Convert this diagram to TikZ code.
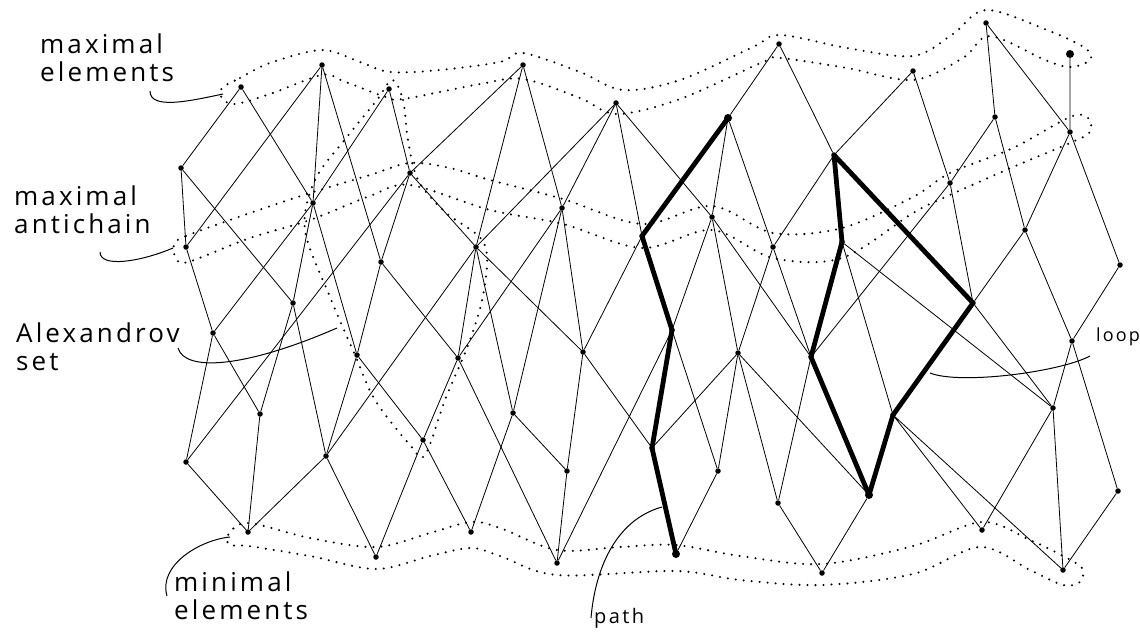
\documentclass[tikz,border=0pt]{standalone}
\usepackage{fontspec}
\newfontfamily\handfont[LetterSpace=12]{Open Sans}
\usepackage{tikz}

\begin{document}
\begin{tikzpicture}[x=1pt,y=1pt,yscale=-1,
        event/.style={circle,fill=black,inner sep=0pt,minimum size=5.5pt},
        bigevent/.style={circle,fill=black,inner sep=0pt,minimum size=8pt},
        link/.style={line width=0.8pt},
        heavy/.style={line width=4.8pt,line join=round,line cap=round},
        band/.style={line width=2.3pt,dash pattern=on 0pt off 8pt,line cap=round},
        lbl/.style={font=\handfont\fontsize{26}{28}\selectfont,align=left,inner sep=0pt,anchor=north west},
        smalllbl/.style={font=\handfont\fontsize{20}{24}\selectfont,inner sep=0pt,anchor=north west},
        pointer/.style={line width=1pt}]
        \useasboundingbox (0,0) rectangle (1140,640);

        %Dotted bands
        % maximal elements
        \draw[band] plot[smooth cycle,tension=0.55] coordinates {(222,88) (240,78) (270,63) (322,50) (360,62) (390,72) (440,70) (500,62) (523,53) (580,72) (623,90) (680,80) (753,47) (780,35) (847,48) (913,56) (953,34) (986,10) (1047,30) (1085,48) (1090,60) (1070,67) (1045,60) (990,36) (963,58) (913,80) (847,68) (780,58) (763,62) (680,99) (617,114) (580,98) (523,79) (480,84) (403,99) (383,96) (343,81) (322,75) (270,94) (235,104) (222,98)};
        % maximal antichain
        \draw[band] plot[smooth cycle,tension=0.55] coordinates {(174,245) (186,236) (250,213) (310,193) (370,175) (410,163) (450,168) (490,180) (563,199) (642,224) (712,206) (773,233) (842,228) (913,197) (950,173) (1013,148) (1070,117) (1088,118) (1090,132) (1070,143) (1013,167) (950,195) (913,213) (842,258) (773,258) (712,230) (642,248) (563,224) (490,210) (410,185) (370,196) (310,220) (250,238) (188,262) (176,258)};
        % Alexandrov set
        \draw[band] plot[smooth cycle,tension=0.55] coordinates {(392,80) (403,100) (408,140) (418,180) (445,212) (484,243) (484,290) (470,340) (445,400) (425,455) (410,445) (375,400) (355,355) (330,297) (305,230) (315,180) (347,137) (377,100)};
        % minimal elements
        \draw[band] plot[smooth cycle,tension=0.55] coordinates {(228,535) (248,523) (310,538) (376,547) (430,533) (471,522) (500,528) (557,550) (620,547) (676,545) (740,556) (822,564) (913,546) (982,522) (1030,540) (1063,556) (1082,568) (1080,582) (1063,585) (1030,570) (980,547) (913,574) (822,585) (740,580) (676,571) (557,575) (500,556) (471,548) (430,556) (376,569) (310,556) (248,546) (230,545)};

        %Events, left part
        \node[event] (n1) at (241,87) {};
        \node[event] (n2) at (322,65) {};
        \node[event] (n3) at (389,89) {};
        \node[event] (n4) at (181,168) {};
        \node[event] (n5) at (313,203) {};
        \node[event] (n6) at (410,173) {};
        \node[event] (n7) at (186,247) {};
        \node[event] (n8) at (381,262) {};
        \node[event] (n9) at (476,247) {};
        \node[event] (n10) at (293,303) {};
        \node[event] (n11) at (213,333) {};
        \node[event] (n12) at (357,355) {};
        \node[event] (n13) at (458,358) {};
        \node[event] (n14) at (260,414) {};
        \node[event] (n15) at (186,462) {};
        \node[event] (n16) at (326,456) {};
        \node[event] (n17) at (423,440) {};
        \node[event] (n18) at (248,532) {};
        \node[event] (n19) at (376,557) {};
        \node[event] (n20) at (471,532) {};
        %Events, middle part
        \node[event] (m1) at (523,65) {};
        \node[event] (m2) at (616,103) {};
        \node[event] (m3) at (779,44) {};
        \node[bigevent] (m4) at (728,118) {};
        \node[event] (m5) at (562,208) {};
        \node[event] (m6) at (642,236) {};
        \node[event] (m7) at (712,217) {};
        \node[event] (m8) at (773,247) {};
        \node[event] (m9) at (583,352) {};
        \node[event] (m10) at (672,330) {};
        \node[event] (m11) at (738,353) {};
        \node[event] (m12) at (513,413) {};
        \node[event] (m13) at (567,471) {};
        \node[event] (m14) at (652,448) {};
        \node[event] (m15) at (718,471) {};
        \node[event] (m16) at (778,503) {};
        \node[event] (m17) at (557,563) {};
        \node[bigevent] (m18) at (676,554) {};
        %Events, right part
        \node[event] (r1) at (913,71) {};
        \node[event] (r2) at (986,23) {};
        \node[bigevent] (r3) at (1070,54) {};
        \node[event] (r4) at (995,117) {};
        \node[event] (r5) at (1070,132) {};
        \node[event] (r6) at (834,155) {};
        \node[event] (r7) at (950,183) {};
        \node[event] (r8) at (1025,230) {};
        \node[event] (r9) at (842,242) {};
        \node[event] (r10) at (1120,265) {};
        \node[event] (r11) at (811,357) {};
        \node[event] (r12) at (973,303) {};
        \node[event] (r13) at (1072,341) {};
        \node[event] (r14) at (893,415) {};
        \node[event] (r15) at (1053,408) {};
        \node[bigevent] (r16) at (869,495) {};
        \node[event] (r17) at (1118,491) {};
        \node[event] (r18) at (982,530) {};
        \node[event] (r19) at (822,573) {};
        \node[event] (r20) at (1063,570) {};

        %Links, left part
        \draw[link] (n1) -- (n4) (n1) -- (n5);
        \draw[link] (n2) -- (n7) (n2) -- (n5) (n2) -- (n8);
        \draw[link] (n3) -- (n5) (n3) -- (n6);
        \draw[link] (n4) -- (n7) (n4) -- (n10);
        \draw[link] (n5) -- (n10) (n5) -- (n11) (n5) -- (n12);
        \draw[link] (n6) -- (n15) (n6) -- (n8) (n6) -- (n9);
        \draw[link] (n7) -- (n11);
        \draw[link] (n8) -- (n12) (n8) -- (n13);
        \draw[link] (n9) -- (n13) (n9) -- (n16) (n9) -- (m9) (n9) -- (m12);
        \draw[link] (n10) -- (n14) (n10) -- (n16);
        \draw[link] (n11) -- (n14) (n11) -- (n15);
        \draw[link] (n12) -- (n16) (n12) -- (n17);
        \draw[link] (n13) -- (n17) (n13) -- (m17);
        \draw[link] (n14) -- (n18) (n15) -- (n18);
        \draw[link] (n16) -- (n18) (n16) -- (n19);
        \draw[link] (n17) -- (n19) (n17) -- (n20);
        %Links, middle part
        \draw[link] (m1) -- (n6) (m1) -- (n9) (m1) -- (m5);
        \draw[link] (m2) -- (n9) (m2) -- (m5) (m2) -- (m6) (m2) -- (m7);
        \draw[link] (m3) -- (m4) (m3) -- (r6);
        \draw[link] (m4) -- (m7) (m4) -- (m8);
        \draw[link] (m5) -- (n13) (m5) -- (m9) (m5) -- (m12);
        \draw[link] (m6) -- (m9);
        \draw[link] (m7) -- (m10) (m7) -- (m11) (m7) -- (r11);
        \draw[link] (m8) -- (m11) (m8) -- (r11);
        \draw[link] (m9) -- (m13) (m9) -- (m14);
        \draw[link] (m10) -- (m17) (m10) -- (m15);
        \draw[link] (m11) -- (m14) (m11) -- (m15) (m11) -- (m16) (m11) -- (r16);
        \draw[link] (m12) -- (m13) (m12) -- (n20);
        \draw[link] (m13) -- (m17) (m15) -- (m18) (m16) -- (r19);
        %Links, right part
        \draw[link] (r1) -- (r6) (r1) -- (r7);
        \draw[link] (r2) -- (r4) (r2) -- (r5) (r3) -- (r5);
        \draw[link] (r4) -- (r7) (r4) -- (r8);
        \draw[link] (r5) -- (r8) (r5) -- (r10);
        \draw[link] (r6) -- (m8);
        \draw[link] (r7) -- (r11) (r7) -- (r12);
        \draw[link] (r8) -- (r12) (r8) -- (r13);
        \draw[link] (r9) -- (r14) (r9) -- (r15);
        \draw[link] (r10) -- (r13) (r11) -- (m16);
        \draw[link] (r12) -- (r15);
        \draw[link] (r13) -- (r15) (r13) -- (r17);
        \draw[link] (r14) -- (r18) (r14) -- (r20);
        \draw[link] (r15) -- (r18) (r15) -- (r20);
        \draw[link] (r16) -- (r19) (r17) -- (r20);

        %Path and loop
        \draw[heavy] (m4.center) -- (m6.center) -- (m10.center) -- (m14.center) -- (m18.center);
        \draw[heavy] (r6.center) -- (r9.center) -- (r11.center) -- (r16.center) -- (r14.center) -- (r12.center) -- cycle;

        % Text Node
        \node[lbl] (maxel) at (40,34) {maximal\\elements};
        \node[lbl] (maxac) at (14,186) {maximal\\antichain};
        \node[lbl] (alex) at (16,323) {Alexandrov\\set};
        \node[lbl] (minel) at (174,572) {minimal\\elements};
        \node[smalllbl] (pathlbl) at (594,608) {path};
        \node[smalllbl,font=\handfont\fontsize{18}{22}\selectfont] (looplbl) at (1096,328) {loop};

        %Pointers
        \coordinate (maxelend) at (223,94);
        \coordinate (maxacend) at (173,248);
        \coordinate (alexend) at (337,328);
        \coordinate (minelend) at (230,537);
        \coordinate (pathend) at (662,507);
        \coordinate (loopend) at (930,373);
        \draw[pointer] (150,91) .. controls (150,110) and (190,101) .. (maxelend);
        \draw[pointer] (100,252) .. controls (100,268) and (140,262) .. (maxacend);
        \draw[pointer] (178,348) .. controls (185,372) and (245,368) .. (alexend);
        \draw[pointer] (167,596) .. controls (158,565) and (200,540) .. (minelend);
        \draw[pointer] (591,618) .. controls (595,570) and (615,520) .. (pathend);
        \draw[pointer] (1090,356) .. controls (1060,372) and (960,385) .. (loopend);
\end{tikzpicture}
\end{document}
